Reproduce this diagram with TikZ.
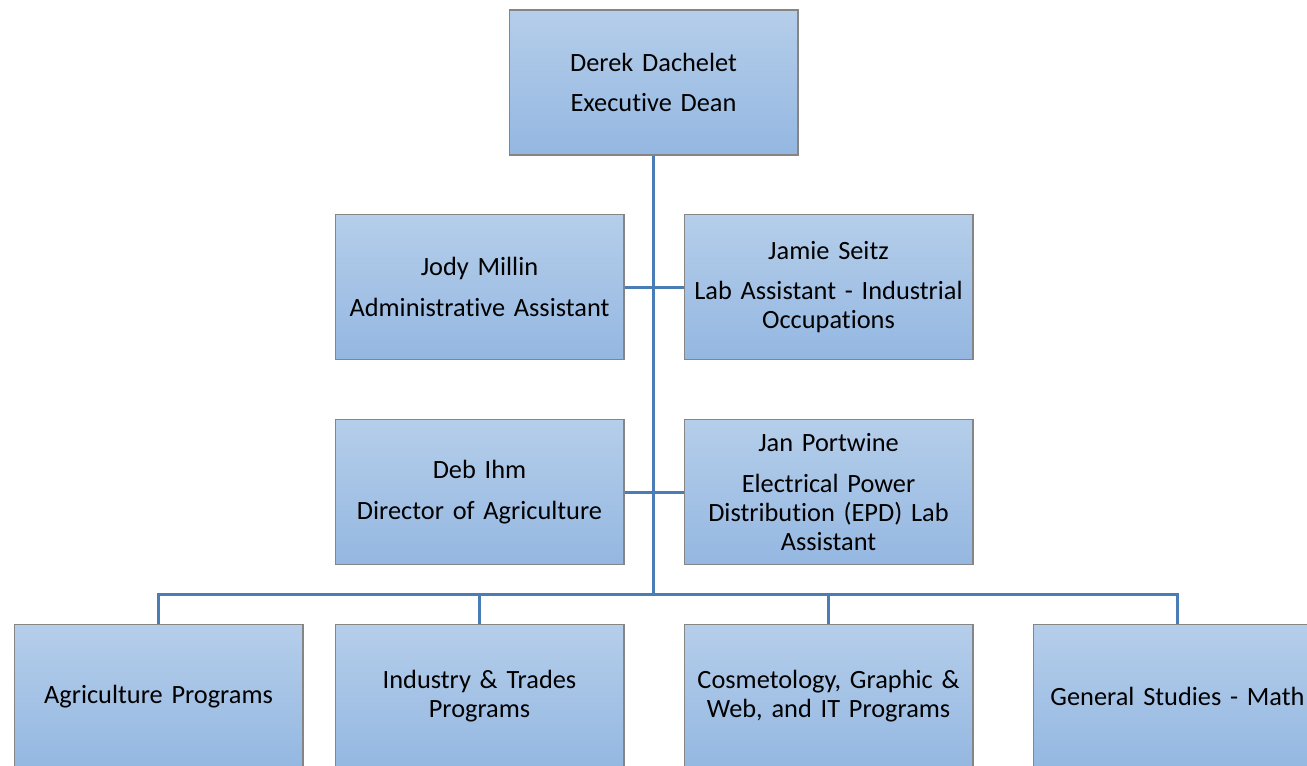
\documentclass[tikz,border=0pt]{standalone}
\usepackage{fontspec}
\setmainfont{Carlito}[Ligatures={NoCommon}]
\usetikzlibrary{positioning}
\definecolor{boxtop}{HTML}{B5CEEA}
\definecolor{boxbot}{HTML}{94B7E1}
\definecolor{boxedge}{HTML}{858585}
\definecolor{linkblue}{HTML}{4A7DB6}
\tikzset{
    orgbox/.style={draw=boxedge, line width=0.6pt, top color=boxtop, bottom color=boxbot,
        minimum width=5.78cm, minimum height=2.9cm, text width=5.7cm, align=center,
        inner sep=0pt, font=\fontsize{15}{16.4}\selectfont},
    link/.style={draw=linkblue, line width=1.7pt}
}
\begin{document}
\begin{tikzpicture}[x=0.02cm,y=-0.02cm]
    \clip (0,0) rectangle (1307,765);

    \node[orgbox] (dean) at (653.5,82.5) {Derek Dachelet\\[6.8pt]Executive Dean};

    \node[orgbox] (jody) at (479.5,287) {Jody Millin\\[6.8pt]Administrative Assistant};
    \node[orgbox] (jamie) at (828.5,287) {Jamie Seitz\\[6.8pt]Lab Assistant - Industrial\\Occupations};
    \node[orgbox] (deb) at (479.5,492) {Deb Ihm\\[6.8pt]Director of Agriculture};
    \node[orgbox] (jan) at (828.5,492) {Jan Portwine\\[6.8pt]Electrical Power\\Distribution (EPD) Lab\\Assistant};

    \node[orgbox] (agri) at (158.5,696.5) {Agriculture Programs};
    \node[orgbox] (trades) at (479.5,696.5) {Industry \& Trades\\Programs};
    \node[orgbox] (cosmo) at (828.5,696.5) {Cosmetology, Graphic \&\\Web, and IT Programs};
    \node[orgbox] (math) at (1177.5,696.5) {General Studies - Math};

    \coordinate (hub) at (653.5,594);
    \draw[link] (dean.south) -- (hub);
    \draw[link] (jody.east) -- (jamie.west);
    \draw[link] (deb.east) -- (jan.west);
    \draw[link] (agri.north) |- (hub) -| (math.north);
    \draw[link] (trades.north) -- (trades.north |- hub);
    \draw[link] (cosmo.north) -- (cosmo.north |- hub);
\end{tikzpicture}
\end{document}
